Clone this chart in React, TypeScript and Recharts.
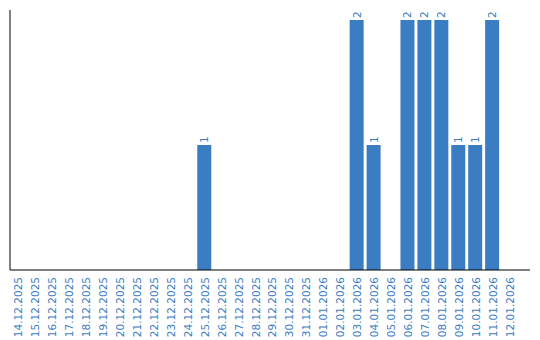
import { BarChart, Bar, XAxis, YAxis, LabelList } from "recharts";

const dates = [
  "14.12.2025", "15.12.2025", "16.12.2025", "17.12.2025", "18.12.2025",
  "19.12.2025", "20.12.2025", "21.12.2025", "22.12.2025", "23.12.2025",
  "24.12.2025", "25.12.2025", "26.12.2025", "27.12.2025", "28.12.2025",
  "29.12.2025", "30.12.2025", "31.12.2025", "01.01.2026", "02.01.2026",
  "03.01.2026", "04.01.2026", "05.01.2026", "06.01.2026", "07.01.2026",
  "08.01.2026", "09.01.2026", "10.01.2026", "11.01.2026", "12.01.2026",
];

const counts = [
  0, 0, 0, 0, 0, 0, 0, 0, 0, 0,
  0, 1, 0, 0, 0, 0, 0, 0, 0, 0,
  2, 1, 0, 2, 2, 2, 1, 1, 2, 0,
];

const BLUE = "#3b7dc3";
const FONT = "'DejaVu Sans', Verdana, sans-serif";

const data = dates.map((d, i) => ({ date: d, count: counts[i] }));

// rotated date ticks, reading bottom to top
function DateTick(props: any) {
  const { x, y, payload } = props;
  return (
    <g transform={`translate(${x},${y})`}>
      <text
        transform="rotate(-90)"
        x={-7}
        y={0}
        dy={4}
        textAnchor="end"
        fill={BLUE}
        fontSize={10.5}
        fontFamily={FONT}
      >
        {payload.value}
      </text>
    </g>
  );
}

function ValueLabel(props: any) {
  const { x, y, width, value } = props;
  if (!value) return null;
  const cx = x + width / 2;
  return (
    <g transform={`translate(${cx},${y - 2})`}>
      <text
        transform="rotate(-90)"
        x={0}
        y={0}
        dy={4}
        textAnchor="start"
        fill={BLUE}
        fontSize={10.5}
        fontFamily={FONT}
      >
        {value}
      </text>
    </g>
  );
}

export default function App() {
  return (
    <div style={{ position: "absolute", left: 0, top: 0 }}>
      <BarChart
        width={540}
        height={340}
        data={data}
        margin={{ top: 10, right: 10, left: 9, bottom: 0 }}
        barSize={14}
      >
        <XAxis
          dataKey="date"
          interval={0}
          tick={<DateTick />}
          tickLine={false}
          tickSize={0}
          tickMargin={0}
          axisLine={{ stroke: "#000" }}
          padding={{ left: 0, right: 12 }}
          height={70}
        />
        <YAxis
          domain={[0, 2.08]}
          tick={false}
          tickLine={false}
          axisLine={{ stroke: "#000" }}
          width={1}
        />
        <Bar dataKey="count" fill={BLUE} isAnimationActive={false}>
          <LabelList dataKey="count" content={<ValueLabel />} />
        </Bar>
      </BarChart>
    </div>
  );
}
